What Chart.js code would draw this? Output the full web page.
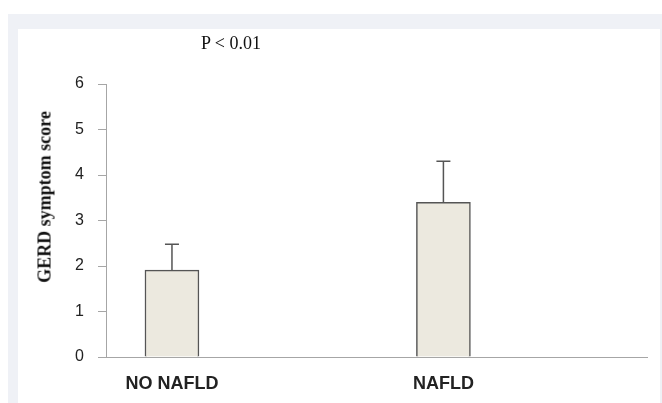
<!DOCTYPE html>
<html>
<head>
<meta charset="utf-8">
<script src="https://cdn.jsdelivr.net/npm/chart.js@4"></script>
<style>
  html, body { margin: 0; padding: 0; background: #fff; }
  #wrap { position: relative; width: 662px; height: 403px; overflow: hidden; }
  .frame { position: absolute; left: 8px; top: 14px; right: 0; bottom: 0; background: #eff1f6; }
  .panel { position: absolute; left: 18px; top: 29px; right: 2px; bottom: 0; background: #fff; }
  #chart { position: absolute; left: 0; top: 0; }
  .ptext {
    position: absolute; left: 181px; top: 33px; width: 100px; text-align: center;
    font: 18px "Liberation Serif", "Times New Roman", serif; color: #111;
  }
  .ytitle {
    position: absolute; left: 45px; top: 197px; white-space: nowrap;
    transform: translate(-50%, -50%) rotate(-90deg);
    font: bold 18px "Liberation Serif", "Times New Roman", serif; color: #111;
  }
</style>
</head>
<body>
<div id="wrap">
  <div class="frame"></div>
  <div class="panel"></div>
  <canvas id="chart" width="662" height="403"></canvas>
  <div class="ptext">P &lt; 0.01</div>
  <div class="ytitle">GERD symptom score</div>
</div>
<script>
// Data
const categories = ['NO NAFLD', 'NAFLD'];
const means = [1.91, 3.40];
const errors = [0.57, 0.90];
const yTicks = [0, 1, 2, 3, 4, 5, 6];

const AXIS_COLOR = '#a6a6a6';
const BAR_BORDER = '#555555';

// upward-only error bars with a cap
const errorBarPlugin = {
  id: 'errorBars',
  afterDatasetsDraw(chart) {
    const { ctx } = chart;
    const yScale = chart.scales.y;
    const meta = chart.getDatasetMeta(0);
    ctx.save();
    ctx.strokeStyle = BAR_BORDER;
    ctx.lineWidth = 1.5;
    meta.data.forEach((bar, i) => {
      const top = yScale.getPixelForValue(means[i] + errors[i]);
      ctx.beginPath();
      ctx.moveTo(bar.x, bar.y);
      ctx.lineTo(bar.x, top);
      ctx.moveTo(bar.x - 7, top);
      ctx.lineTo(bar.x + 7, top);
      ctx.stroke();
    });
    ctx.restore();
  }
};

new Chart(document.getElementById('chart'), {
  type: 'bar',
  data: {
    datasets: [{
      data: categories.map((c, i) => ({ x: i + 1, y: means[i] })),
      backgroundColor: '#ece9df',
      borderColor: BAR_BORDER,
      borderWidth: 1.5,
      barThickness: 54,
    }]
  },
  options: {
    responsive: false,
    animation: false,
    layout: { padding: { left: 0, right: 15, top: 84, bottom: 0 } },
    plugins: {
      legend: { display: false },
      tooltip: { enabled: false },
    },
    scales: {
      x: {
        type: 'linear',
        offset: false,
        min: 0.757,
        max: 2.75,
        afterBuildTicks: scale => { scale.ticks = categories.map((c, i) => ({ value: i + 1 })); },
        afterFit: scale => { scale.height = 46; },
        grid: { display: false },
        border: { display: true, color: AXIS_COLOR, width: 1 },
        ticks: {
          callback: v => categories[v - 1] || '',
          padding: 8,
          color: '#222',
          font: { family: '"Liberation Sans", Arial, sans-serif', size: 18, weight: 'bold' },
          maxRotation: 0,
        },
      },
      y: {
        min: 0,
        max: 6,
        afterBuildTicks: scale => { scale.ticks = yTicks.map(v => ({ value: v })); },
        afterFit: scale => { scale.width = 106; },
        grid: { drawOnChartArea: false, drawTicks: true, tickLength: 8, color: AXIS_COLOR },
        border: { display: true, color: AXIS_COLOR, width: 1 },
        ticks: {
          padding: 14,
          color: '#222',
          font: { family: '"Liberation Sans", Arial, sans-serif', size: 16 },
        },
      }
    }
  },
  plugins: [errorBarPlugin]
});
</script>
</body>
</html>
